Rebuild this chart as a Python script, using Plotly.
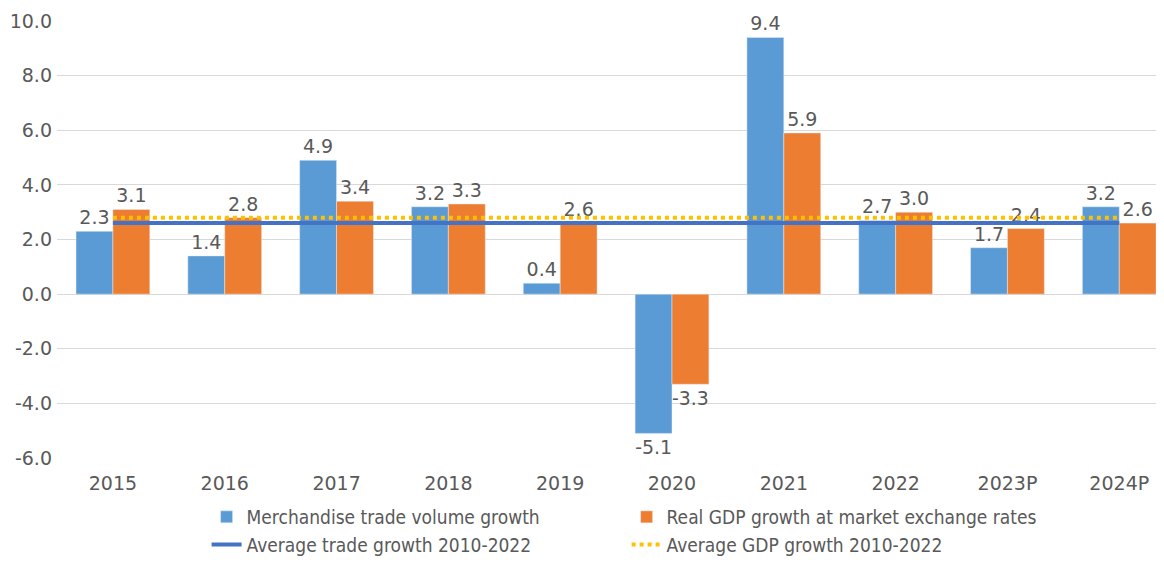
import plotly.graph_objects as go

categories = ["2015", "2016", "2017", "2018", "2019", "2020", "2021", "2022", "2023P", "2024P"]
trade_growth = [2.3, 1.4, 4.9, 3.2, 0.4, -5.1, 9.4, 2.7, 1.7, 3.2]
gdp_growth = [3.1, 2.8, 3.4, 3.3, 2.6, -3.3, 5.9, 3.0, 2.4, 2.6]
avg_trade = [2.6] * len(categories)
avg_gdp = [2.8] * len(categories)
y_ticks = [-6, -4, -2, 0, 2, 4, 6, 8, 10]
y_tick_labels = [f"{v:.1f}" for v in y_ticks]

FONT = "DejaVu Sans, Verdana, sans-serif"
label_font = dict(family=FONT, size=19, color="#595959")

fig = go.Figure()
fig.add_trace(go.Bar(
    x=categories, y=trade_growth, name="Merchandise trade volume growth",
    marker=dict(color="#5B9BD5"),
    text=[f"{v:.1f}" for v in trade_growth], textposition="outside",
    textfont=label_font, cliponaxis=False,
))
fig.add_trace(go.Bar(
    x=categories, y=gdp_growth, name="Real GDP growth at market exchange rates",
    marker=dict(color="#ED7D31"),
    text=[f"{v:.1f}" for v in gdp_growth], textposition="outside",
    textfont=label_font, cliponaxis=False,
))
fig.add_trace(go.Scatter(
    x=categories, y=avg_trade, name="Average trade growth 2010-2022",
    mode="lines", line=dict(color="#4472C4", width=4),
))
fig.add_trace(go.Scatter(
    x=categories, y=avg_gdp, name="Average GDP growth 2010-2022",
    mode="lines", line=dict(color="#FFC000", width=4, dash="dot"),
))

fig.update_layout(
    width=1156, height=556,
    margin=dict(l=49, r=0, t=13, b=106),
    paper_bgcolor="white", plot_bgcolor="white",
    barmode="group", bargap=0.34, bargroupgap=0,
    font=dict(family=FONT, size=19, color="#595959"),
    legend=dict(
        orientation="h", xref="container", yref="container",
        x=0.1718, xanchor="left", y=0.0, yanchor="bottom",
        entrywidth=375, entrywidthmode="pixels",
        font=dict(family="DejaVu Sans Condensed, DejaVu Sans, sans-serif", size=19, color="#595959"),
        traceorder="normal", tracegroupgap=0,
    ),
    showlegend=True,
)
fig.update_xaxes(
    range=[-0.5, 9.4], showgrid=False, showline=False, ticks="",
    tickfont=dict(family=FONT, size=19, color="#595959"),
    ticklabelstandoff=12,
)
fig.update_yaxes(
    range=[-6, 10], tickvals=y_ticks, ticktext=y_tick_labels,
    showgrid=True, gridcolor="#D9D9D9", gridwidth=1,
    zeroline=True, zerolinecolor="#D9D9D9", zerolinewidth=1,
    showline=False, ticks="", tickfont=dict(family=FONT, size=19, color="#595959"),
    ticklabelstandoff=4,
)

fig.write_html("out.html")
